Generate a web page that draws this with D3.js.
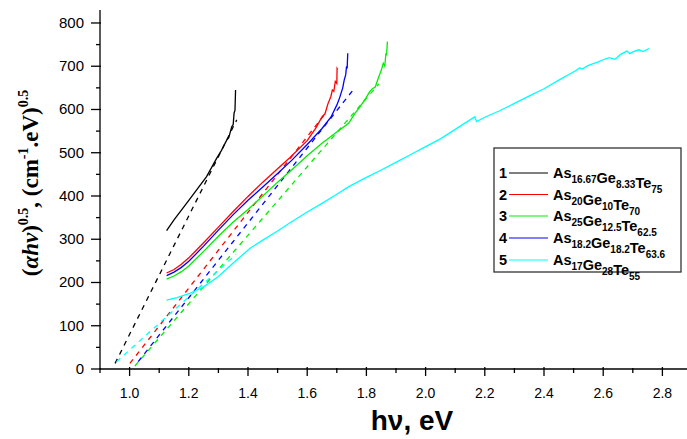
<!DOCTYPE html>
<html><head><meta charset="utf-8">
<script src="https://cdn.jsdelivr.net/npm/d3@7"></script>
<style>body{margin:0;background:#fff}svg{display:block}</style>
</head><body>
<svg id="c" width="687" height="439"></svg>
<script>
// ---- data (hν in eV, (αhν)^0.5) ----
const names = [
  [["As","16.67"],["Ge","8.33"],["Te","75"]],
  [["As","20"],["Ge","10"],["Te","70"]],
  [["As","25"],["Ge","12.5"],["Te","62.5"]],
  [["As","18.2"],["Ge","18.2"],["Te","63.6"]],
  [["As","17"],["Ge","28"],["Te","55"]]
];
const colors = ["#000000","#ff0000","#00ee00","#0000ff","#00ffff"];

const curve1 = [[1.125,320],[1.15,345],[1.2,390],[1.26,445],[1.294,487],[1.31,505],[1.328,529],[1.335,535],[1.345,560],[1.35,565],[1.353,592],[1.356,598],[1.358,645]];
const curve2 = [[1.125,222],[1.15,230],[1.175,242],[1.2,257],[1.25,292],[1.3,328],[1.35,364],[1.4,399],[1.45,432],[1.5,463],[1.542,489],[1.6,528],[1.63,558],[1.65,583],[1.66,590],[1.67,613],[1.68,630],[1.685,645],[1.69,642],[1.695,665],[1.70,660],[1.701,695],[1.703,693]];
const curve3 = [[1.125,208],[1.15,215],[1.175,225],[1.2,238],[1.25,272],[1.3,307],[1.35,340],[1.4,369],[1.45,400],[1.5,432],[1.55,462],[1.6,493],[1.65,522],[1.7,548],[1.74,568],[1.76,590],[1.78,608],[1.8,628],[1.81,640],[1.82,648],[1.83,652],[1.84,672],[1.85,690],[1.857,707],[1.862,700],[1.866,730],[1.868,725],[1.871,757]];
const curve4 = [[1.125,216],[1.15,224],[1.175,235],[1.2,249],[1.25,284],[1.3,321],[1.35,357],[1.4,390],[1.45,421],[1.5,452],[1.55,484],[1.6,519],[1.65,556],[1.68,582],[1.70,610],[1.71,628],[1.72,650],[1.725,668],[1.73,680],[1.733,700],[1.735,695],[1.737,730]];
const curve5 = [[1.125,159],[1.16,165],[1.2,174],[1.25,190],[1.3,214],[1.35,245],[1.407,279],[1.45,298],[1.5,319],[1.542,338],[1.6,363],[1.65,383],[1.7,404],[1.739,421],[1.8,443],[1.85,460],[1.914,483],[1.95,496],[2.0,514],[2.05,532],[2.1,554],[2.15,576],[2.166,583],[2.172,572],[2.2,582],[2.25,597],[2.3,614],[2.349,631],[2.4,648],[2.45,668],[2.508,690],[2.52,696],[2.53,694],[2.55,702],[2.583,710],[2.6,715],[2.62,720],[2.64,716],[2.66,728],[2.68,735],[2.69,729],[2.70,733],[2.72,738],[2.735,734],[2.755,741]];
const fit1 = [[0.951,13],[1.362,576]];
const fit2 = [[1.001,13],[1.665,594]];
const fit3 = [[1.018,7],[1.842,659]];
const fit4 = [[1.029,17],[1.755,645]];
const fit5 = [[0.956,17],[1.36,265]];

const xMajor = [1.0,1.2,1.4,1.6,1.8,2.0,2.2,2.4,2.6,2.8];
const xMinor = [0.9,1.1,1.3,1.5,1.7,1.9,2.1,2.3,2.5,2.7,2.9];
const yMajor = [0,100,200,300,400,500,600,700,800];
const yMinor = [50,150,250,350,450,550,650,750];

const curves = [curve1,curve2,curve3,curve4,curve5];
const fits = [fit1,fit2,fit3,fit4,fit5];

// ---- drawing ----
const svg = d3.select("#c");
const x = d3.scaleLinear().domain([0.9,2.9]).range([100,692]);
const y = d3.scaleLinear().domain([0,830]).range([369,10]);
const line = d3.line().x(d=>x(d[0])).y(d=>y(d[1]));

// axes
const ax = svg.append("g").attr("stroke","#000").attr("stroke-width",1.3);
ax.append("line").attr("x1",x(0.9)).attr("x2",687).attr("y1",y(0)).attr("y2",y(0));
ax.append("line").attr("x1",x(0.9)).attr("x2",x(0.9)).attr("y1",y(0)).attr("y2",y(830));
xMajor.forEach(v=>ax.append("line").attr("x1",x(v)).attr("x2",x(v)).attr("y1",y(0)-2).attr("y2",y(0)+7));
xMinor.forEach(v=>ax.append("line").attr("x1",x(v)).attr("x2",x(v)).attr("y1",y(0)-1).attr("y2",y(0)+4));
yMajor.forEach(v=>ax.append("line").attr("x1",x(0.9)-9).attr("x2",x(0.9)+1).attr("y1",y(v)).attr("y2",y(v)));
yMinor.forEach(v=>ax.append("line").attr("x1",x(0.9)-4).attr("x2",x(0.9)).attr("y1",y(v)).attr("y2",y(v)));

const tf = "Liberation Sans, Arial, sans-serif";
svg.append("g").selectAll("text").data(xMajor).join("text")
  .attr("x",d=>x(d)).attr("y",398).attr("text-anchor","middle")
  .attr("font-family",tf).attr("font-size",14).text(d=>d.toFixed(1));
svg.append("g").selectAll("text").data(yMajor).join("text")
  .attr("x",84).attr("y",d=>y(d)+5).attr("text-anchor","end")
  .attr("font-family",tf).attr("font-size",15).text(d=>d);

// x title
svg.append("text").attr("x",412).attr("y",430).attr("text-anchor","middle")
  .attr("font-family",tf).attr("font-weight","bold").attr("font-size",28).text("hν, eV");

// y title
const yt = svg.append("text").attr("transform","translate(38,183) rotate(-90)")
  .attr("text-anchor","middle").attr("font-family","Liberation Serif, Times New Roman, serif")
  .attr("font-weight","bold").attr("font-size",23);
yt.append("tspan").text("(");
yt.append("tspan").attr("font-style","italic").text("αh");
yt.append("tspan").attr("font-style","italic").text("ν");
yt.append("tspan").text(")");
yt.append("tspan").attr("dy",-10).attr("font-size",14).text("0.5");
yt.append("tspan").attr("dy",10).text(", (cm");
yt.append("tspan").attr("dy",-10).attr("font-size",14).text("-1");
yt.append("tspan").attr("dy",10).text(".eV)");
yt.append("tspan").attr("dy",-10).attr("font-size",14).text("0.5");

// fits (dashed)
svg.append("g").selectAll("path").data(fits).join("path")
  .attr("d",line).attr("fill","none").attr("stroke",(d,i)=>colors[i])
  .attr("stroke-width",1.3).attr("stroke-dasharray","5,5");
// curves
svg.append("g").selectAll("path").data(curves).join("path")
  .attr("d",line).attr("fill","none").attr("stroke",(d,i)=>colors[i])
  .attr("stroke-width",1.3);

// legend
const lg = svg.append("g");
lg.append("rect").attr("x",494).attr("y",148).attr("width",187).attr("height",124)
  .attr("fill","#fff").attr("stroke","#333").attr("stroke-width",1.3);
const rowsY = [173,194.5,216,238,260];
names.forEach((nm,i)=>{
  const yy = rowsY[i];
  lg.append("text").attr("x",499).attr("y",yy+5).attr("font-family",tf).attr("font-weight","bold")
    .attr("font-size",14.5).text(String(i+1));
  lg.append("line").attr("x1",509).attr("x2",548).attr("y1",yy).attr("y2",yy)
    .attr("stroke",colors[i]).attr("stroke-width",1.2);
  const t = lg.append("text").attr("x",553).attr("y",yy+5).attr("font-family",tf)
    .attr("font-weight","bold").attr("font-size",14.5);
  nm.forEach(p=>{
    t.append("tspan").attr("dy",0).text(p[0]);
    t.append("tspan").attr("font-size",10).attr("dy",5).text(p[1]);
    t.append("tspan").attr("font-size",14.5).attr("dy",-5).text("");
  });
});
</script>
</body></html>
